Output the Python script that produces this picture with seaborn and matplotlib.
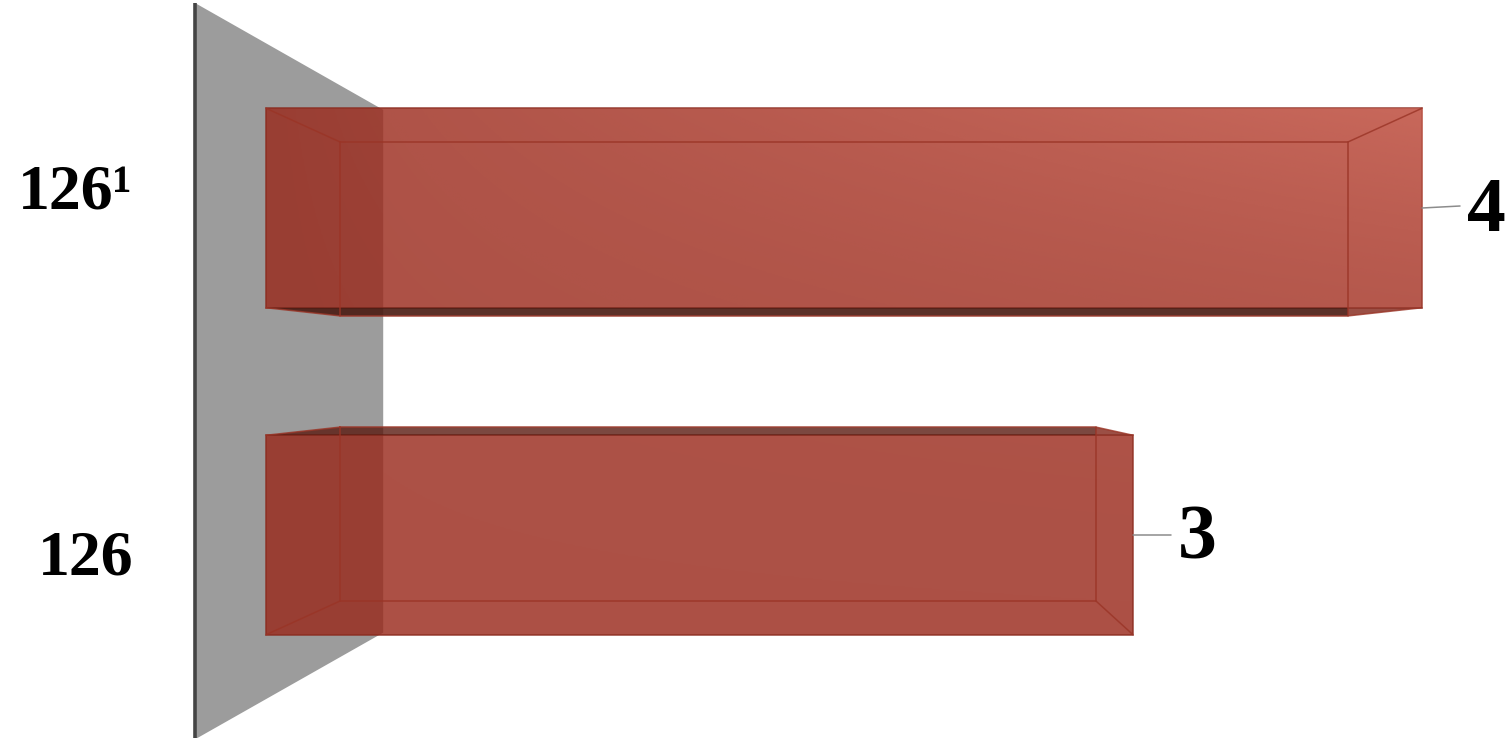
import numpy as np
import pandas as pd
import seaborn as sns
import matplotlib.pyplot as plt

# chart values
labels = ['126\u00b9', '126']
values = [4, 3]

sns.set_theme(style='white')
plt.rcParams['font.family'] = ['Liberation Serif', 'DejaVu Serif']

df = pd.DataFrame({'label': labels, 'value': values})

fig = plt.figure(figsize=(15.09, 7.38), dpi=100)
ax = fig.add_axes([140 / 1509, 0, 1369 / 1509, 1])

sns.barplot(data=df, x='value', y='label', orient='h', color='#98271a', alpha=0.81,
            saturation=1, width=0.61, edgecolor='#8a2a1e', linewidth=1.2, ax=ax, zorder=2)

xlim = (-0.436, 4.301)
ylim = (1.6208, -0.6361)
ax.set_xlim(xlim)
ax.set_ylim(ylim)

# perspective: everything shrinks towards the middle of the plot
vx, vy = 2.0, 0.5
depth = 0.872


def back(x, y, k=depth):
    return vx + k * (x - vx), vy + k * (y - vy)


# side wall
wx, wy0, wy1 = -0.2457, -0.627, 1.625
bx0, by0 = back(wx, wy0, 0.71)
bx1, by1 = back(wx, wy1, 0.71)
ax.fill([wx, bx0, bx1, wx], [wy0, by0, by1, wy1], color='#9c9c9c', lw=0, zorder=1)
ax.plot([wx, wx], [wy0, wy1], color='#444444', lw=2.6, zorder=1.5, solid_capstyle='butt')

# light falling from the upper right
xs = np.linspace(xlim[0], xlim[1], 500)
ys = np.linspace(ylim[1], ylim[0], 300)
gx, gy = np.meshgrid(xs, ys)
shade = np.zeros(gx.shape + (4,))
shade[..., :3] = np.array([232, 130, 115]) / 255
yfrac = (gy - ylim[1]) / (ylim[0] - ylim[1])
shade[..., 3] = 0.75 * np.clip(gx / 4, 0, 1) * (1 - yfrac) ** 3 + 0.02

line = '#9a3426'
for bar, val in zip(ax.patches, values):
    x0, x1 = bar.get_x(), bar.get_x() + bar.get_width()
    y0, y1 = bar.get_y(), bar.get_y() + bar.get_height()

    im = ax.imshow(shade, extent=(xlim[0], xlim[1], ylim[0], ylim[1]), origin='upper',
                   aspect='auto', zorder=2.1)
    im.set_clip_path(bar)

    ix0, iy0 = back(x0, y0)
    ix1, iy1 = back(x1, y1)

    # face seen from the outside, above or below the bar
    if y1 < vy:
        oy, iy = y1, iy1
        dark, tip = ('#4a1a12', 0.9), ('#8a3024', 0.85)
    else:
        oy, iy = y0, iy0
        dark, tip = ('#5a1a10', 0.8), ('#8a3024', 0.85)
    ax.fill([x0, ix0, ix1, ix1], [oy, iy, iy, oy], color=dark[0], alpha=dark[1], lw=0, zorder=2.2)
    ax.fill([ix1, ix1, x1], [oy, iy, oy], color=tip[0], alpha=tip[1], lw=0, zorder=2.2)

    # back rectangle and the corner edges
    ax.plot([ix0, ix1, ix1, ix0, ix0], [iy0, iy0, iy1, iy1, iy0], color=line, lw=1.2, alpha=0.8, zorder=2.3)
    for cx, cy, dx, dy in [(x0, y0, ix0, iy0), (x1, y0, ix1, iy0), (x0, y1, ix0, iy1), (x1, y1, ix1, iy1)]:
        ax.plot([cx, dx], [cy, dy], color=line, lw=1.1, alpha=0.8, zorder=2.3)

# value labels with leader lines
leader_rise = {4: 2, 3: 0}
for i, val in enumerate(values):
    ax.annotate('', xy=(val, i), xytext=(38, leader_rise[val]), textcoords='offset pixels',
                arrowprops=dict(arrowstyle='-', color='#8c8c8c', lw=1.1, shrinkA=0, shrinkB=0))
    ax.annotate(str(val), xy=(val, i), xytext=(45, 4), textcoords='offset pixels', ha='left',
                va='center_baseline', fontsize=56, fontweight='bold', color='black')

ax.set_xlabel('')
ax.set_ylabel('')
ax.set_xticks([])
# the category labels sit a little apart from the bar centres in the original
ax.set_yticks([-0.064, 1.055], labels)
ax.tick_params(axis='y', length=0, pad=5)
for t in ax.get_yticklabels():
    t.set_fontsize(46)
    t.set_fontweight('bold')
    t.set_color('black')
sns.despine(ax=ax, left=True, bottom=True)
ax.patch.set_alpha(0)

fig.savefig('out.png', dpi=100)
